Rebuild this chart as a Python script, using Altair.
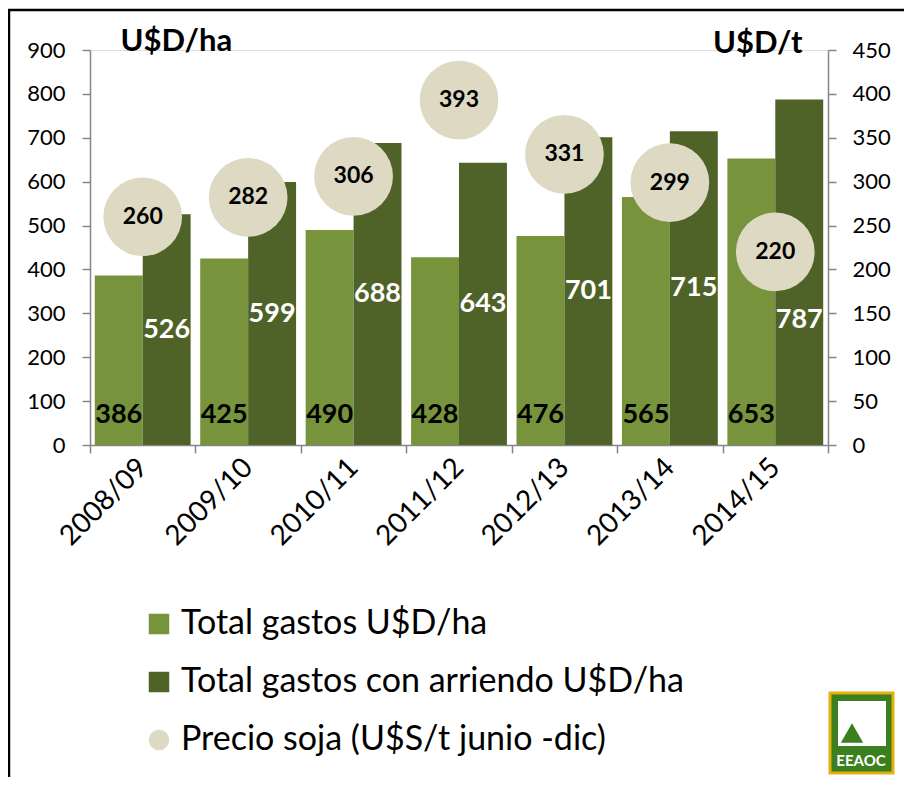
import altair as alt
import pandas as pd

seasons = ["2008/09", "2009/10", "2010/11", "2011/12", "2012/13", "2013/14", "2014/15"]
gastos = [386, 425, 490, 428, 476, 565, 653]
arriendo = [526, 599, 688, 643, 701, 715, 787]
precio = [260, 282, 306, 393, 331, 299, 220]

SER_G = "Total gastos U$D/ha"
SER_A = "Total gastos con arriendo U$D/ha"
SER_P = "Precio soja  (U$S/t junio -dic)"
series_all = [SER_G, SER_A, SER_P]
colors = ["#77933C", "#4F6228", "#DDD9C3"]

rows = []
for s, g, a in zip(seasons, gastos, arriendo):
    rows.append({"season": s, "series": SER_G, "value": g})
    rows.append({"season": s, "series": SER_A, "value": a})
bars_df = pd.DataFrame(rows)
price_df = pd.DataFrame({"season": seasons, "series": [SER_P] * len(seasons), "price": precio})
dummy = pd.DataFrame({"k": [0]})

FONT = "Lato"
GRAY = "#868686"

x_enc = alt.X(
    "season:N", sort=seasons,
    scale=alt.Scale(paddingInner=0, paddingOuter=0),
    axis=alt.Axis(title=None, labelAngle=-45, labelAlign="right", labelBaseline="middle",
                  labelFontSize=28, labelFont=FONT, labelColor="black", labelPadding=10,
                  tickBand="extent", tickSize=8, tickColor=GRAY, tickWidth=1.5,
                  domainColor=GRAY, domainWidth=1.5),
)
x_plain = alt.X("season:N", sort=seasons, title=None)
xoff = alt.XOffset("series:N", scale=alt.Scale(domain=[SER_G, SER_A], paddingInner=0, paddingOuter=0.1))

color_enc = alt.Color(
    "series:N",
    scale=alt.Scale(domain=series_all, range=colors),
    legend=alt.Legend(title=None, orient="none", legendX=52, legendY=557, direction="vertical",
                      symbolSize=420, symbolStrokeWidth=0, labelFontSize=34, labelFont=FONT,
                      labelColor="black", labelOffset=5, rowPadding=24, padding=0,
                      labelLimit=800),
)

yl_scale = alt.Scale(domain=[0, 900], nice=False)
yr_scale = alt.Scale(domain=[0, 450], nice=False)

bars = alt.Chart(bars_df).mark_bar().encode(
    x=x_enc,
    xOffset=xoff,
    y=alt.Y("value:Q", scale=yl_scale,
            axis=alt.Axis(values=list(range(0, 901, 100)), grid=False, title="U$D/ha",
                          titleAngle=0, titleAlign="left", titleBaseline="alphabetic",
                          titleX=30, titleY=0, titleFontSize=31, titleFont=FONT,
                          titleFontWeight="bold", titleColor="black",
                          labelFontSize=22, labelFont=FONT, labelColor="black", labelPadding=17,
                          tickSize=8, tickColor=GRAY, tickWidth=1.5,
                          domainColor=GRAY, domainWidth=1.5)),
    color=color_enc,
)

lab_g = alt.Chart(bars_df).transform_filter(alt.datum.series == SER_G).transform_calculate(
    ly="68"
).mark_text(font=FONT, fontWeight="bold", fontSize=27, color="black", baseline="middle").encode(
    x=x_plain, xOffset=xoff, y=alt.Y("ly:Q", scale=yl_scale, title="U$D/ha"), text="value:Q"
)

lab_a = alt.Chart(bars_df).transform_filter(alt.datum.series == SER_A).transform_calculate(
    ly="datum.season == '2014/15' ? 285 : datum.value / 2"
).mark_text(font=FONT, fontWeight="bold", fontSize=27, color="white", baseline="middle").encode(
    x=x_plain, xOffset=xoff, y=alt.Y("ly:Q", scale=yl_scale, title="U$D/ha"), text="value:Q"
)

frame_top = alt.Chart(dummy).mark_rule(color="black", strokeWidth=2.5).encode(
    x=alt.value(-82), x2=alt.value(814), y=alt.value(-40)
)
frame_left = alt.Chart(dummy).mark_rule(color="black", strokeWidth=2.5).encode(
    x=alt.value(-81), y=alt.value(-40), y2=alt.value(727)
)
logo_box = alt.Chart(dummy).mark_rect(fill="#3C7F1E", stroke="#E3B10C", strokeWidth=3).encode(
    x=alt.value(740), x2=alt.value(803), y=alt.value(643), y2=alt.value(723)
)
logo_inner = alt.Chart(dummy).mark_rect(fill="white").encode(
    x=alt.value(748), x2=alt.value(796), y=alt.value(651), y2=alt.value(696)
)
logo_plant = alt.Chart(dummy).mark_point(shape="triangle-up", filled=True, size=500, color="#3C7F1E",
                                         opacity=1).encode(
    x=alt.value(762), y=alt.value(683)
)
logo_txt = alt.Chart(dummy).mark_text(text="EEAOC", font=FONT, fontWeight="bold", fontSize=15,
                                      color="white").encode(
    x=alt.value(771), y=alt.value(711)
)

left = alt.layer(bars, lab_g, lab_a, frame_top, frame_left, logo_box, logo_inner, logo_plant, logo_txt)

points = alt.Chart(price_df).mark_point(filled=True, size=6200, opacity=1, strokeWidth=0).encode(
    x=x_plain,
    y=alt.Y("price:Q", scale=yr_scale,
            axis=alt.Axis(orient="right", values=list(range(0, 451, 50)), grid=False, title="U$D/t",
                          titleAngle=0, titleAlign="right", titleBaseline="alphabetic",
                          titleX=-26, titleY=2, titleFontSize=31, titleFont=FONT,
                          titleFontWeight="bold", titleColor="black",
                          labelFontSize=22, labelFont=FONT, labelColor="black", labelPadding=16,
                          tickSize=8, tickColor=GRAY, tickWidth=1.5,
                          domainColor=GRAY, domainWidth=1.5)),
    color=color_enc,
    shape=alt.Shape("series:N", scale=alt.Scale(domain=series_all, range=["square", "square", "circle"]),
                    legend=alt.Legend(title=None, orient="none", legendX=52, legendY=557)),
)
price_lab = alt.Chart(price_df).mark_text(font=FONT, fontWeight="bold", fontSize=23, color="black",
                                         baseline="middle").encode(
    x=x_plain, y=alt.Y("price:Q", scale=yr_scale, title="U$D/t"), text="price:Q"
)
right = alt.layer(points, price_lab)

chart = alt.layer(left, right).resolve_scale(y="independent").properties(
    width=738, height=395,
    padding={"left": 82, "top": 42, "right": 76, "bottom": 332},
    autosize=alt.AutoSizeParams(type="none"),
).configure_view(strokeWidth=0).configure(background="white")

chart.save("out.html", embed_options={"renderer": "svg", "actions": False})
